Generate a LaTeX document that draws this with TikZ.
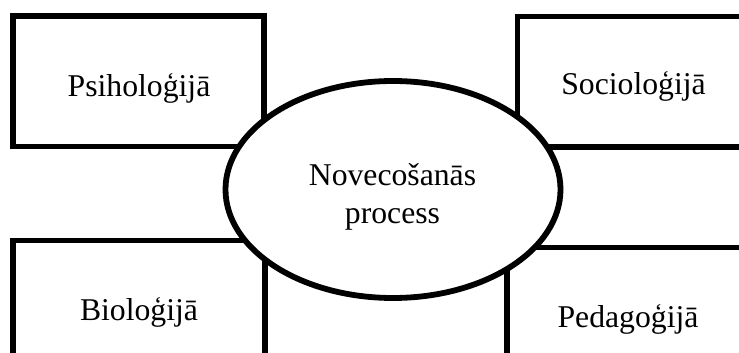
\documentclass[tikz,border=0pt]{standalone}
\usepackage{fontspec}
\setmainfont{Liberation Serif}
\usetikzlibrary{shapes.geometric}
\begin{document}
\begin{tikzpicture}[x=1pt,y=-1pt,
  frame/.style={draw=black,line width=5.6pt},
  lbl/.style={anchor=base,inner sep=0pt,font=\fontsize{31.7}{38}\selectfont},
  oval/.style={draw=black,fill=white,line width=5.8pt}]
\clip (0,0) rectangle (739,353);
\fill[white] (0,0) rectangle (739,353);
% boxes
\draw[frame] (13,16) rectangle (264,146.5);
\draw[frame] (517.5,16.5) rectangle (780,146.8);
\draw[frame] (13,240.5) rectangle (265,400);
\draw[frame] (507,247.5) rectangle (780,400);
% labels
\node[lbl] (psi) at (139,96.5) {Psiholoģijā};
\node[lbl] (soc) at (633.5,95) {Socioloģijā};
\node[lbl] (bio) at (139,320) {Bioloģijā};
\node[lbl] (ped) at (628,327) {Pedagoģijā};
% ellipse
\draw[oval] (393,189.5) ellipse [x radius=167.5, y radius=108.5];
\node[lbl] (nov1) at (392.5,185) {Novecošanās};
\node[lbl] (nov2) at (392.5,223.3) {process};
\end{tikzpicture}
\end{document}
